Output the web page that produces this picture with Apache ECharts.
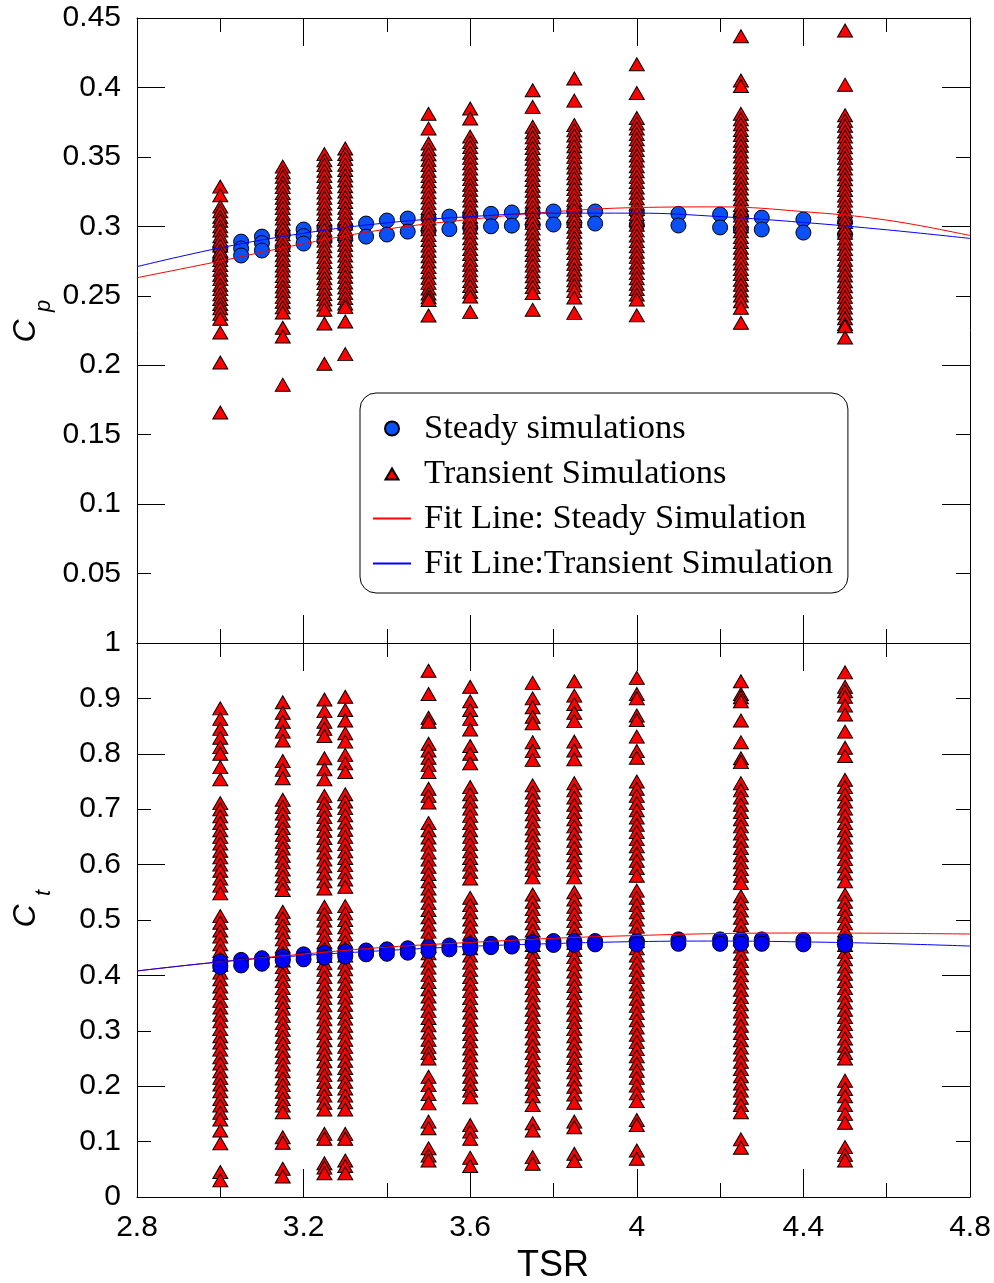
<!DOCTYPE html>
<html><head><meta charset="utf-8">
<script src="https://cdn.jsdelivr.net/npm/echarts@6/dist/echarts.min.js"></script>
<style>html,body{margin:0;padding:0;background:#fff}#c{width:994px;height:1283px}</style>
</head><body><div id="c"></div>
<script>
// ---- tick labels ----
const tsrTickLabels = [2.8, 3.2, 3.6, 4.0, 4.4, 4.8];
const cpTickLabels = [0.05, 0.1, 0.15, 0.2, 0.25, 0.3, 0.35, 0.4, 0.45];
const ctTickLabels = [0, 0.1, 0.2, 0.3, 0.4, 0.5, 0.6, 0.7, 0.8, 0.9, 1];

// ---- steady simulations (blue circles) ----
const tsrSteady = [3.0, 3.05, 3.1, 3.15, 3.2, 3.25, 3.3, 3.35, 3.4, 3.45, 3.5, 3.55, 3.6, 3.65, 3.7, 3.75, 3.8, 3.85, 3.9, 4.0, 4.1, 4.2, 4.25, 4.3, 4.4, 4.5];
const cpSteady = [
  [0.284, 0.276], [0.289, 0.284, 0.279], [0.2926, 0.288, 0.2826], [0.294, 0.285], [0.2977, 0.293, 0.2876],
  [0.299, 0.290], [0.300, 0.291], [0.302, 0.2926], [0.3042, 0.2941], [0.3056, 0.2962],
  [0.306, 0.297], [0.307, 0.298], [0.308, 0.299], [0.309, 0.300], [0.310, 0.3005],
  [0.310, 0.301], [0.3107, 0.3013], [0.311, 0.302], [0.3107, 0.302], [0.310, 0.301],
  [0.309, 0.3006], [0.3085, 0.2992], [0.307, 0.298], [0.3063, 0.2977], [0.3049, 0.2955], [0.303, 0.294]
];
const ctSteady = [
  [0.425, 0.415], [0.428, 0.418], [0.431, 0.421], [0.434, 0.427], [0.438, 0.429],
  [0.441, 0.432], [0.443, 0.434], [0.445, 0.438], [0.447, 0.439], [0.449, 0.441],
  [0.451, 0.444], [0.454, 0.447], [0.456, 0.449], [0.457, 0.451], [0.458, 0.452],
  [0.460, 0.454], [0.462, 0.455], [0.462, 0.455], [0.462, 0.456], [0.462, 0.456],
  [0.465, 0.457], [0.465, 0.457], [0.465, 0.457], [0.465, 0.457], [0.464, 0.456], [0.462, 0.455]
];

// ---- transient simulations (red triangles) ----
const tsrTransient = [3.0, 3.15, 3.25, 3.3, 3.5, 3.6, 3.75, 3.85, 4.0, 4.25, 4.5];
const cpTransient = [
  [0.3286, 0.3224, 0.3142, 0.3108, 0.3069, 0.3040, 0.3001, 0.2970, 0.2928, 0.2897, 0.2862, 0.2824, 0.2795, 0.2757, 0.2722, 0.2688, 0.2651, 0.2620, 0.2579, 0.2548, 0.2510, 0.2477, 0.2441, 0.2410, 0.2371, 0.2335, 0.2235, 0.2020, 0.1660],
  [0.3430, 0.3390, 0.3357, 0.3316, 0.3283, 0.3240, 0.3206, 0.3166, 0.3131, 0.3090, 0.3056, 0.3015, 0.2981, 0.2942, 0.2906, 0.2866, 0.2831, 0.2791, 0.2758, 0.2717, 0.2682, 0.2643, 0.2607, 0.2567, 0.2533, 0.2492, 0.2457, 0.2417, 0.2380, 0.2270, 0.2207, 0.1860],
  [0.3520, 0.3476, 0.3441, 0.3400, 0.3363, 0.3320, 0.3284, 0.3243, 0.3206, 0.3165, 0.3129, 0.3089, 0.3051, 0.3011, 0.2975, 0.2934, 0.2897, 0.2857, 0.2821, 0.2780, 0.2743, 0.2703, 0.2666, 0.2626, 0.2591, 0.2550, 0.2513, 0.2474, 0.2437, 0.2400, 0.2300, 0.2010],
  [0.3560, 0.3521, 0.3484, 0.3444, 0.3406, 0.3366, 0.3330, 0.3289, 0.3251, 0.3211, 0.3175, 0.3134, 0.3098, 0.3057, 0.3021, 0.2980, 0.2944, 0.2904, 0.2867, 0.2827, 0.2790, 0.2749, 0.2713, 0.2673, 0.2637, 0.2596, 0.2560, 0.2519, 0.2483, 0.2445, 0.2420, 0.2315, 0.2080],
  [0.3810, 0.3705, 0.3596, 0.3555, 0.3518, 0.3479, 0.3441, 0.3400, 0.3363, 0.3324, 0.3287, 0.3246, 0.3210, 0.3169, 0.3132, 0.3092, 0.3056, 0.3015, 0.2978, 0.2938, 0.2901, 0.2861, 0.2824, 0.2784, 0.2747, 0.2707, 0.2670, 0.2629, 0.2593, 0.2552, 0.2516, 0.2490, 0.2470, 0.2358],
  [0.3848, 0.3776, 0.3646, 0.3607, 0.3571, 0.3530, 0.3493, 0.3454, 0.3417, 0.3376, 0.3340, 0.3299, 0.3263, 0.3222, 0.3186, 0.3145, 0.3109, 0.3069, 0.3032, 0.2991, 0.2955, 0.2914, 0.2878, 0.2837, 0.2801, 0.2760, 0.2724, 0.2683, 0.2647, 0.2606, 0.2570, 0.2529, 0.2495, 0.2384],
  [0.3980, 0.3860, 0.3717, 0.3677, 0.3641, 0.3600, 0.3564, 0.3523, 0.3487, 0.3446, 0.3410, 0.3369, 0.3333, 0.3292, 0.3256, 0.3215, 0.3179, 0.3138, 0.3102, 0.3061, 0.3025, 0.2984, 0.2948, 0.2907, 0.2871, 0.2830, 0.2794, 0.2753, 0.2717, 0.2676, 0.2640, 0.2599, 0.2563, 0.2520, 0.2400],
  [0.4064, 0.3905, 0.3730, 0.3691, 0.3654, 0.3613, 0.3577, 0.3536, 0.3500, 0.3459, 0.3423, 0.3382, 0.3346, 0.3305, 0.3269, 0.3228, 0.3192, 0.3151, 0.3115, 0.3074, 0.3038, 0.2997, 0.2961, 0.2920, 0.2884, 0.2843, 0.2807, 0.2766, 0.2730, 0.2689, 0.2653, 0.2612, 0.2576, 0.2535, 0.2487, 0.2377],
  [0.4167, 0.3960, 0.3780, 0.3741, 0.3704, 0.3664, 0.3627, 0.3587, 0.3550, 0.3510, 0.3473, 0.3433, 0.3396, 0.3356, 0.3319, 0.3279, 0.3242, 0.3202, 0.3165, 0.3125, 0.3088, 0.3048, 0.3011, 0.2971, 0.2934, 0.2894, 0.2857, 0.2817, 0.2780, 0.2740, 0.2703, 0.2663, 0.2626, 0.2586, 0.2549, 0.2509, 0.2473, 0.2359],
  [0.4369, 0.4050, 0.4010, 0.3810, 0.3770, 0.3734, 0.3693, 0.3657, 0.3616, 0.3580, 0.3539, 0.3503, 0.3462, 0.3426, 0.3385, 0.3349, 0.3308, 0.3272, 0.3231, 0.3195, 0.3154, 0.3118, 0.3077, 0.3041, 0.3000, 0.2964, 0.2923, 0.2887, 0.2846, 0.2810, 0.2769, 0.2733, 0.2692, 0.2656, 0.2615, 0.2579, 0.2538, 0.2502, 0.2461, 0.2414, 0.2306],
  [0.4410, 0.4020, 0.3800, 0.3760, 0.3724, 0.3683, 0.3647, 0.3606, 0.3570, 0.3529, 0.3493, 0.3452, 0.3416, 0.3375, 0.3339, 0.3298, 0.3262, 0.3221, 0.3185, 0.3144, 0.3108, 0.3067, 0.3031, 0.2990, 0.2954, 0.2913, 0.2877, 0.2836, 0.2800, 0.2759, 0.2723, 0.2682, 0.2646, 0.2605, 0.2569, 0.2528, 0.2492, 0.2451, 0.2415, 0.2374, 0.2338, 0.2297, 0.2280, 0.2200]
];
const ctTransient = [
  [0.882, 0.863, 0.845, 0.829, 0.812, 0.800, 0.776, 0.754, 0.711, 0.700, 0.687, 0.675, 0.662, 0.650, 0.638, 0.625, 0.613, 0.600, 0.589, 0.575, 0.562, 0.548, 0.507, 0.495, 0.481, 0.470, 0.456, 0.444, 0.430, 0.419, 0.405, 0.393, 0.380, 0.368, 0.354, 0.342, 0.329, 0.317, 0.303, 0.290, 0.279, 0.266, 0.252, 0.241, 0.227, 0.215, 0.203, 0.191, 0.177, 0.165, 0.152, 0.140, 0.120, 0.097, 0.045, 0.030],
  [0.893, 0.874, 0.858, 0.840, 0.824, 0.787, 0.771, 0.756, 0.717, 0.704, 0.692, 0.679, 0.666, 0.654, 0.641, 0.629, 0.616, 0.604, 0.591, 0.579, 0.566, 0.554, 0.515, 0.503, 0.490, 0.478, 0.465, 0.452, 0.440, 0.427, 0.415, 0.402, 0.390, 0.377, 0.364, 0.352, 0.340, 0.327, 0.314, 0.302, 0.289, 0.277, 0.264, 0.252, 0.239, 0.227, 0.214, 0.202, 0.190, 0.177, 0.165, 0.153, 0.108, 0.098, 0.051, 0.037],
  [0.898, 0.877, 0.858, 0.845, 0.832, 0.792, 0.772, 0.754, 0.724, 0.711, 0.699, 0.686, 0.673, 0.661, 0.648, 0.635, 0.622, 0.609, 0.597, 0.584, 0.570, 0.557, 0.524, 0.511, 0.499, 0.486, 0.473, 0.460, 0.448, 0.435, 0.422, 0.410, 0.397, 0.384, 0.371, 0.359, 0.346, 0.333, 0.321, 0.308, 0.296, 0.283, 0.270, 0.258, 0.245, 0.232, 0.220, 0.208, 0.195, 0.183, 0.170, 0.158, 0.114, 0.105, 0.061, 0.053, 0.043],
  [0.903, 0.879, 0.860, 0.837, 0.822, 0.798, 0.783, 0.767, 0.727, 0.714, 0.702, 0.689, 0.676, 0.663, 0.650, 0.637, 0.624, 0.612, 0.599, 0.586, 0.573, 0.560, 0.525, 0.512, 0.500, 0.487, 0.474, 0.461, 0.449, 0.436, 0.423, 0.411, 0.398, 0.385, 0.372, 0.360, 0.347, 0.334, 0.322, 0.309, 0.297, 0.284, 0.271, 0.259, 0.246, 0.233, 0.221, 0.208, 0.196, 0.183, 0.171, 0.158, 0.114, 0.105, 0.066, 0.056, 0.043],
  [0.950, 0.908, 0.865, 0.858, 0.818, 0.806, 0.793, 0.780, 0.767, 0.737, 0.724, 0.712, 0.675, 0.662, 0.649, 0.636, 0.622, 0.609, 0.596, 0.583, 0.570, 0.557, 0.544, 0.531, 0.518, 0.505, 0.492, 0.479, 0.466, 0.453, 0.440, 0.427, 0.414, 0.401, 0.388, 0.375, 0.362, 0.349, 0.336, 0.323, 0.310, 0.297, 0.284, 0.271, 0.260, 0.250, 0.217, 0.202, 0.186, 0.169, 0.136, 0.124, 0.088, 0.075, 0.066],
  [0.921, 0.895, 0.879, 0.863, 0.844, 0.814, 0.800, 0.783, 0.740, 0.727, 0.714, 0.701, 0.688, 0.675, 0.662, 0.650, 0.637, 0.624, 0.612, 0.600, 0.587, 0.575, 0.540, 0.527, 0.514, 0.501, 0.488, 0.475, 0.462, 0.449, 0.436, 0.423, 0.410, 0.397, 0.385, 0.372, 0.359, 0.346, 0.333, 0.320, 0.307, 0.294, 0.281, 0.268, 0.256, 0.243, 0.230, 0.217, 0.204, 0.192, 0.180, 0.130, 0.118, 0.105, 0.071, 0.056],
  [0.928, 0.900, 0.884, 0.867, 0.855, 0.821, 0.805, 0.789, 0.743, 0.730, 0.717, 0.704, 0.691, 0.678, 0.665, 0.653, 0.640, 0.627, 0.615, 0.602, 0.590, 0.577, 0.546, 0.533, 0.520, 0.507, 0.494, 0.481, 0.468, 0.455, 0.442, 0.429, 0.416, 0.403, 0.390, 0.377, 0.364, 0.351, 0.338, 0.325, 0.312, 0.299, 0.286, 0.273, 0.260, 0.247, 0.234, 0.221, 0.208, 0.195, 0.182, 0.166, 0.133, 0.120, 0.072, 0.060],
  [0.931, 0.905, 0.890, 0.874, 0.859, 0.822, 0.806, 0.790, 0.747, 0.734, 0.721, 0.708, 0.695, 0.682, 0.669, 0.656, 0.643, 0.630, 0.617, 0.604, 0.590, 0.577, 0.550, 0.537, 0.524, 0.511, 0.498, 0.485, 0.472, 0.459, 0.446, 0.433, 0.420, 0.407, 0.394, 0.381, 0.368, 0.355, 0.342, 0.329, 0.316, 0.303, 0.290, 0.277, 0.264, 0.251, 0.238, 0.225, 0.212, 0.199, 0.185, 0.170, 0.136, 0.126, 0.078, 0.065],
  [0.937, 0.908, 0.900, 0.869, 0.861, 0.831, 0.805, 0.793, 0.750, 0.737, 0.724, 0.711, 0.698, 0.685, 0.672, 0.659, 0.646, 0.633, 0.620, 0.607, 0.594, 0.580, 0.553, 0.540, 0.527, 0.514, 0.501, 0.488, 0.475, 0.462, 0.449, 0.436, 0.423, 0.410, 0.397, 0.384, 0.371, 0.358, 0.345, 0.332, 0.319, 0.306, 0.293, 0.280, 0.267, 0.254, 0.241, 0.228, 0.215, 0.201, 0.187, 0.173, 0.139, 0.130, 0.084, 0.069],
  [0.931, 0.908, 0.902, 0.895, 0.860, 0.821, 0.792, 0.785, 0.747, 0.734, 0.721, 0.708, 0.695, 0.682, 0.669, 0.656, 0.643, 0.630, 0.617, 0.604, 0.592, 0.580, 0.567, 0.543, 0.530, 0.517, 0.504, 0.491, 0.478, 0.465, 0.452, 0.439, 0.426, 0.413, 0.400, 0.387, 0.374, 0.361, 0.348, 0.335, 0.322, 0.309, 0.296, 0.283, 0.270, 0.257, 0.244, 0.231, 0.218, 0.205, 0.192, 0.179, 0.166, 0.153, 0.104, 0.089],
  [0.947, 0.921, 0.913, 0.903, 0.887, 0.871, 0.840, 0.811, 0.796, 0.753, 0.740, 0.727, 0.714, 0.701, 0.688, 0.675, 0.662, 0.649, 0.636, 0.623, 0.610, 0.597, 0.584, 0.570, 0.546, 0.533, 0.520, 0.507, 0.494, 0.481, 0.468, 0.455, 0.442, 0.429, 0.416, 0.403, 0.390, 0.377, 0.364, 0.351, 0.338, 0.325, 0.312, 0.299, 0.286, 0.273, 0.260, 0.250, 0.210, 0.195, 0.182, 0.166, 0.150, 0.134, 0.090, 0.076, 0.066]
];

// ---- fit lines ----
const fitTsr = [2.8, 3.0, 3.2, 3.4, 3.6, 3.8, 4.0, 4.2, 4.4, 4.6, 4.8];
const cpFitSteady = [0.263, 0.275, 0.2875, 0.298, 0.305, 0.3105, 0.3135, 0.314, 0.3106, 0.3045, 0.2934];
const cpFitTransient = [0.271, 0.2845, 0.295, 0.3025, 0.307, 0.3095, 0.3095, 0.307, 0.3028, 0.2975, 0.2913];
const ctFitSteady = [0.408, 0.4245, 0.4385, 0.451, 0.4595, 0.467, 0.472, 0.4755, 0.4765, 0.476, 0.4747];
const ctFitTransient = [0.408, 0.4245, 0.436, 0.445, 0.4525, 0.4575, 0.461, 0.462, 0.4605, 0.4575, 0.453];

// ---- builders ----
function pairs(xs, groups) { const out = []; xs.forEach((x, i) => groups[i].forEach(v => out.push([x, v]))); return out; }
function zip(xs, ys) { return xs.map((x, i) => [x, ys[i]]); }
const near = (list, v) => list.some(t => Math.abs(t - v) < 1e-6);

const FONT = 'Liberation Sans, Arial, sans-serif';
const LINE = { show: true, onZero: false, lineStyle: { color: '#000', width: 1 } };
function xAx(grid, pos, labels) {
  return {
    type: 'value', gridIndex: grid, position: pos, min: 2.8, max: 4.8, interval: 0.4,
    axisLine: LINE, splitLine: { show: false },
    axisTick: { show: true, inside: true, length: 28, lineStyle: { color: '#000' } },
    minorTick: { show: true, splitNumber: 2, length: 14, lineStyle: { color: '#000' } },
    axisLabel: labels ? { show: true, fontSize: 30, fontFamily: FONT, color: '#000', margin: 16,
      formatter: v => near(tsrTickLabels, v) ? String(+v.toFixed(2)) : '' } : { show: false }
  };
}
function yAx(grid, pos, max, interval, tickLen, labelList, showLine) {
  return {
    type: 'value', gridIndex: grid, position: pos, min: 0, max: max, interval: interval,
    axisLine: showLine ? LINE : { show: false, onZero: false }, splitLine: { show: false },
    axisTick: { show: true, inside: true, length: tickLen, lineStyle: { color: '#000' } },
    axisLabel: labelList ? { show: true, fontSize: 30, fontFamily: FONT, color: '#000', margin: 16,
      formatter: v => near(labelList, v) ? String(+v.toFixed(2)) : '' } : { show: false }
  };
}

const chart = echarts.init(document.getElementById('c'), null, { renderer: 'canvas' });
const circleTop = { color: '#0a50f5', borderColor: '#000', borderWidth: 1, opacity: 1 };
const circleBot = { color: '#0000ff', borderColor: '#000', borderWidth: 1, opacity: 1 };
const tri = { color: '#ff0000', borderColor: '#000', borderWidth: 1, opacity: 1 };
const TRI_ICON = 'path://M0,0M38,14M12.5,13L19,2L25.5,13Z';

chart.setOption({
  animation: false,
  backgroundColor: '#fff',
  grid: [
    { left: 137, top: 18, width: 833, height: 625 },
    { left: 137, top: 643, width: 833, height: 554 }
  ],
  xAxis: [xAx(0, 'bottom', false), xAx(0, 'top', false), xAx(1, 'top', false), xAx(1, 'bottom', true)],
  yAxis: [
    yAx(0, 'left', 0.45, 0.05, 14, cpTickLabels, true),
    yAx(0, 'left', 0.45, 0.1, 28, null, false),
    yAx(0, 'right', 0.45, 0.05, 14, null, true),
    yAx(0, 'right', 0.45, 0.1, 28, null, false),
    yAx(1, 'left', 1, 0.1, 14, ctTickLabels, true),
    yAx(1, 'left', 1, 0.2, 28, null, false),
    yAx(1, 'right', 1, 0.1, 14, null, true),
    yAx(1, 'right', 1, 0.2, 28, null, false)
  ],
  legend: {
    left: 360, top: 393, orient: 'vertical',
    padding: [18, 15, 12, 12], itemGap: 10, itemWidth: 38, itemHeight: 14,
    borderColor: '#000', borderWidth: 1, borderRadius: 16, backgroundColor: '#fff',
    textStyle: { fontFamily: 'Liberation Serif, Times New Roman, serif', fontSize: 34.5, lineHeight: 34, color: '#000', padding: [0, 0, 0, 8] },
    data: [
      { name: 'Steady simulations', icon: 'circle' },
      { name: 'Transient Simulations', icon: TRI_ICON },
      { name: 'Fit Line: Steady Simulation', itemStyle: { opacity: 0 } },
      { name: 'Fit Line:Transient Simulation', itemStyle: { opacity: 0 } }
    ]
  },
  series: [
    { name: 'Steady simulations', type: 'scatter', xAxisIndex: 0, yAxisIndex: 0, symbol: 'circle', symbolSize: 15, itemStyle: circleTop, data: pairs(tsrSteady, cpSteady), z: 2 },
    { name: 'Transient Simulations', type: 'scatter', xAxisIndex: 0, yAxisIndex: 0, symbol: 'triangle', symbolSize: [15, 13], itemStyle: tri, data: pairs(tsrTransient, cpTransient), z: 3 },
    { name: 'Fit Line: Steady Simulation', type: 'line', xAxisIndex: 0, yAxisIndex: 0, symbol: 'none', smooth: 0.4, lineStyle: { color: '#ff0000', width: 1 }, itemStyle: { color: '#ff0000' }, data: zip(fitTsr, cpFitSteady), z: 4 },
    { name: 'Fit Line:Transient Simulation', type: 'line', xAxisIndex: 0, yAxisIndex: 0, symbol: 'none', smooth: 0.4, lineStyle: { color: '#0000ff', width: 1 }, itemStyle: { color: '#0000ff' }, data: zip(fitTsr, cpFitTransient), z: 4 },
    { name: 'Transient Simulations', type: 'scatter', xAxisIndex: 3, yAxisIndex: 4, symbol: 'triangle', symbolSize: [15, 13], itemStyle: tri, data: pairs(tsrTransient, ctTransient), z: 2 },
    { name: 'Steady simulations', type: 'scatter', xAxisIndex: 3, yAxisIndex: 4, symbol: 'circle', symbolSize: 15, itemStyle: circleBot, data: pairs(tsrSteady, ctSteady), z: 3 },
    { name: 'Fit Line: Steady Simulation', type: 'line', xAxisIndex: 3, yAxisIndex: 4, symbol: 'none', smooth: 0.4, lineStyle: { color: '#ff0000', width: 1 }, itemStyle: { color: '#ff0000' }, data: zip(fitTsr, ctFitSteady), z: 4 },
    { name: 'Fit Line:Transient Simulation', type: 'line', xAxisIndex: 3, yAxisIndex: 4, symbol: 'none', smooth: 0.4, lineStyle: { color: '#0000ff', width: 1 }, itemStyle: { color: '#0000ff' }, data: zip(fitTsr, ctFitTransient), z: 4 }
  ],
  graphic: [
    { type: 'text', x: 26, y: 331, rotation: Math.PI / 2, style: { text: 'C', font: 'italic 32px ' + FONT, fill: '#000', textAlign: 'center', textVerticalAlign: 'middle' } },
    { type: 'text', x: 44, y: 306, rotation: Math.PI / 2, style: { text: 'p', font: 'italic 22px ' + FONT, fill: '#000', textAlign: 'center', textVerticalAlign: 'middle' } },
    { type: 'text', x: 26, y: 916, rotation: Math.PI / 2, style: { text: 'C', font: 'italic 32px ' + FONT, fill: '#000', textAlign: 'center', textVerticalAlign: 'middle' } },
    { type: 'text', x: 44, y: 893, rotation: Math.PI / 2, style: { text: 't', font: 'italic 22px ' + FONT, fill: '#000', textAlign: 'center', textVerticalAlign: 'middle' } },
    { type: 'text', x: 553, y: 1266, style: { text: 'TSR', font: '36px ' + FONT, fill: '#000', textAlign: 'center', textVerticalAlign: 'middle' } }
  ]
});
</script></body></html>
